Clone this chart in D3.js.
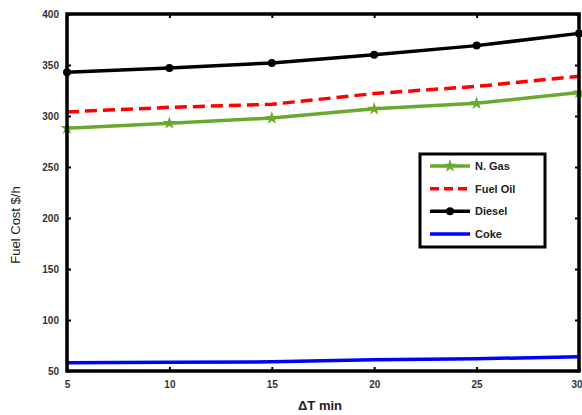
<!DOCTYPE html>
<html><head><meta charset="utf-8">
<script src="https://cdn.jsdelivr.net/npm/d3@7"></script>
<style>
body{margin:0;background:#fff;}
text{font-family:"Liberation Sans",Arial,sans-serif;}
</style></head><body>
<svg id="c" width="582" height="415"></svg>
<script>
const xValues = [5, 10, 15, 20, 25, 30];
const nGas = [288, 293, 298, 307, 312.5, 323];
const fuelOil = [304, 308.5, 311.5, 322, 329, 339];
const diesel = [343, 347, 352, 360, 369, 381];
const coke = [58, 58.5, 59, 61, 62, 64];
const xTicks = [5, 10, 15, 20, 25, 30];
const yTicks = [50, 100, 150, 200, 250, 300, 350, 400];
const seriesNames = ["N. Gas", "Fuel Oil", "Diesel", "Coke"];

const svg = d3.select("#c");
const L = 67, R = 579, T = 14, B = 371;
const x = d3.scaleLinear().domain([5, 30]).range([L, R]);
const y = d3.scaleLinear().domain([50, 400]).range([B, T]);

const series = [
  {name: seriesNames[0], vals: nGas, color: "#6aa82e", dash: null, marker: "star"},
  {name: seriesNames[1], vals: fuelOil, color: "#ff0000", dash: "12,6", marker: null},
  {name: seriesNames[2], vals: diesel, color: "#000000", dash: null, marker: "dot"},
  {name: seriesNames[3], vals: coke, color: "#0000ff", dash: null, marker: null}
];

const line = d3.line().x((d, i) => x(xValues[i])).y(d => y(d));
series.forEach(s => {
  svg.append("path").attr("d", line(s.vals)).attr("fill", "none")
    .attr("stroke", s.color).attr("stroke-width", 3.5)
    .attr("stroke-dasharray", s.dash);
  if (s.marker === "dot") {
    svg.selectAll(null).data(s.vals).enter().append("circle")
      .attr("cx", (d, i) => x(xValues[i])).attr("cy", d => y(d)).attr("r", 4).attr("fill", s.color);
  } else if (s.marker === "star") {
    svg.selectAll(null).data(s.vals).enter().append("path")
      .attr("d", d3.symbol(d3.symbolStar, 55)())
      .attr("transform", (d, i) => `translate(${x(xValues[i])},${y(d)})`)
      .attr("fill", s.color);
  }
});

// axes
const ax = svg.append("g").attr("transform", `translate(0,${B})`)
  .call(d3.axisBottom(x).tickValues(xTicks).tickSize(-4).tickPadding(10));
const ay = svg.append("g").attr("transform", `translate(${L},0)`)
  .call(d3.axisLeft(y).tickValues(yTicks).tickSize(-4).tickPadding(8));
svg.append("g").attr("transform", `translate(0,${T})`)
  .call(d3.axisTop(x).tickValues(xTicks).tickSize(-4).tickFormat(""));
svg.append("g").attr("transform", `translate(${R},0)`)
  .call(d3.axisRight(y).tickValues(yTicks).tickSize(-4).tickFormat(""));
svg.selectAll(".domain").remove();
svg.selectAll(".tick line").attr("stroke", "#000").attr("stroke-width", 2);
svg.selectAll(".tick text").attr("font-size", 10).attr("font-weight", "bold").attr("fill", "#333");
ax.selectAll(".tick text").filter(d => d === 30).attr("text-anchor", "end").attr("dx", 3);
svg.append("rect").attr("x", L).attr("y", T).attr("width", R - L).attr("height", B - T)
  .attr("fill", "none").attr("stroke", "#000").attr("stroke-width", 3.5);

// axis labels
svg.append("text").attr("x", 320).attr("y", 410).attr("text-anchor", "middle")
  .attr("font-size", 13).attr("font-weight", "bold").attr("fill", "#222").text("ΔT min");
svg.append("text").attr("transform", "translate(20,225) rotate(-90)").attr("text-anchor", "middle")
  .attr("font-size", 13).attr("fill", "#222").text("Fuel Cost $/h");

// legend
const lg = svg.append("g");
lg.append("rect").attr("x", 420).attr("y", 154).attr("width", 125).attr("height", 93)
  .attr("fill", "#fff").attr("stroke", "#000").attr("stroke-width", 3);
const ly = d3.scalePoint().domain(seriesNames).range([166, 234]);
series.forEach(s => {
  const yy = ly(s.name);
  lg.append("line").attr("x1", 430).attr("x2", 470).attr("y1", yy).attr("y2", yy)
    .attr("stroke", s.color).attr("stroke-width", 3.5).attr("stroke-dasharray", s.dash ? "9,5" : null);
  if (s.marker === "dot") lg.append("circle").attr("cx", 450).attr("cy", yy).attr("r", 4).attr("fill", s.color);
  if (s.marker === "star") lg.append("path").attr("d", d3.symbol(d3.symbolStar, 55)())
    .attr("transform", `translate(450,${yy})`).attr("fill", s.color);
  lg.append("text").attr("x", 475).attr("y", yy + 4).attr("font-size", 11).attr("font-weight", "bold")
    .attr("fill", "#222").text(s.name);
});
</script>
</body></html>
